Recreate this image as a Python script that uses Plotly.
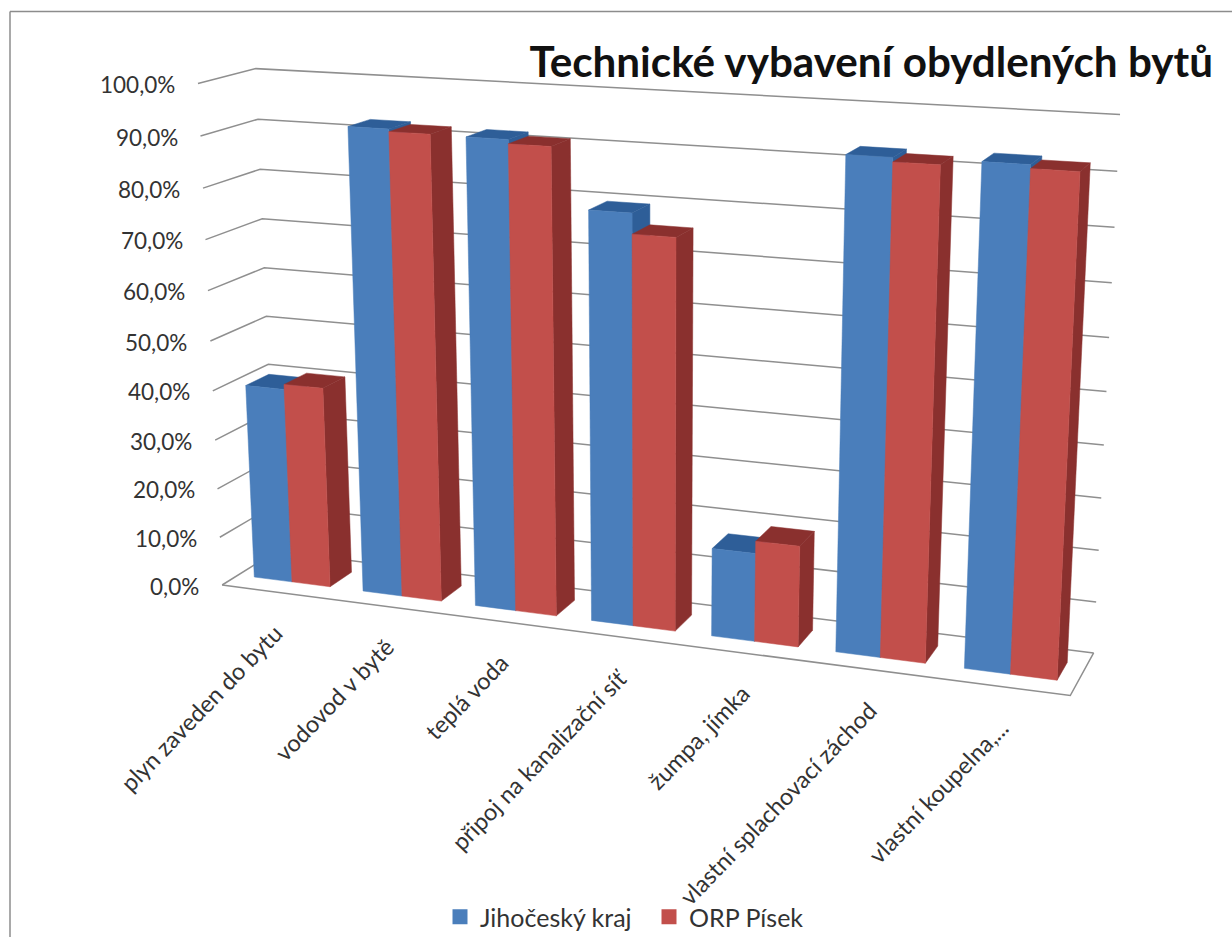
import numpy as np
import plotly.graph_objects as go

# ---------- data ----------
categories = ["plyn zaveden do bytu", "vodovod v bytě", "teplá voda", "připoj na kanalizační síť",
              "žumpa, jímka", "vlastní splachovací záchod", "vlastní koupelna,..."]
jihocesky_kraj = [39.8, 92.4, 91.8, 79.7, 17.3, 92.8, 93.0]
orp_pisek = [40.8, 91.9, 91.0, 75.8, 19.7, 92.0, 92.3]
tick_values = [0, 10, 20, 30, 40, 50, 60, 70, 80, 90, 100]
series_names = ["Jihočeský kraj", "ORP Písek"]

# ---------- perspective of the 3-D box: (category pos, depth, value) -> page position ----------
BAR_X = (0.15, 0.5, 0.85)
BAR_D = (0.29, 0.71)
calib_world = [(0,1,100),(0,1,90),(0,1,80),(0,1,70),(0,1,60),(0,1,40),(0,1,0),
               (0,0,100),(0,0,90),(0,0,80),(0,0,70),(0,0,60),(0,0,40),(0,0,30),(0,0,20),(0,0,10),(0,0,0),
               (7,1,100),(7,1,90),(7,1,80),(7,1,70),(7,1,30),(7,1,20),(7,1,10),(7,1,0),(7,0,0),
               (0.15,.29,0),(1.15,.29,0),(2.15,.29,0),(3.15,.29,0),(4.15,.29,0),(5.15,.29,0),(6.15,.29,0),
               (0.85,.29,0),(1.85,.29,0),(3.85,.29,0),(4.85,.29,0),(5.85,.29,0),(6.85,.29,0),
               (0.85,.71,0),(1.85,.71,0),(3.85,.71,0),(4.85,.71,0),(5.85,.71,0),(6.85,.71,0)]
calib_page = [(256,68),(258,119),(260,169),(263,219),(264,268),(268,364),(276,551),
              (198,83),(201,136),(202,189),(207,240),(208,291),(212,392),(215,441),(217,488),(219,537),(223,584),
              (1120,114),(1117,171),(1114,227),(1112,283),(1102,498),(1098,551),(1095,603),(1093,654),(1070,697),
              (253,577),(362,591),(474,605),(590,620),(710,636),(834,652),(963,669),
              (332,586),(443,600),(677,630),(799,647),(927,663),(1059,680),
              (352,572),(462,587),(692,617),(813,633),(938,651),(1068,652)]

rows = []
for (cx, d, v), (px, py) in zip(calib_world, calib_page):
    X = [cx / 7, d, v / 100, 1]
    u, w = px / 1000, py / 1000
    rows.append(X + [0, 0, 0, 0] + [-u * a for a in X])
    rows.append([0, 0, 0, 0] + X + [-w * a for a in X])
P = np.linalg.svd(np.array(rows))[2][-1].reshape(3, 4)


def project(cx, d, v):
    h = P @ np.array([cx / 7, d, v / 100, 1])
    return h[0] / h[2] * 1000, h[1] / h[2] * 1000


def polygon(points):
    xy = [project(*p) for p in points]
    xs = [q[0] for q in xy]
    ys = [q[1] for q in xy]
    return xs + xs[:1], ys + ys[:1]


GRID = "#8f8f8f"
COLORS = [("#4a7ebb", "#2e5e98"), ("#c24f4b", "#8a302e")]
TEXT = "#333333"
FONT = "Lato"

fig = go.Figure()

# gridlines on the two walls and the floor
gx, gy = [], []
for v in tick_values:
    for p in [(0, 0, v), (0, 1, v), (7, 1, v)]:
        q = project(*p)
        gx.append(q[0])
        gy.append(q[1])
    gx.append(None)
    gy.append(None)
for p in [(0, 0, 0), (7, 0, 0), (7, 1, 0)]:
    q = project(*p)
    gx.append(q[0])
    gy.append(q[1])
fig.add_trace(go.Scatter(x=gx, y=gy, mode="lines", line=dict(color=GRID, width=1.5),
                         hoverinfo="skip", showlegend=False))

# bars, painted back to front
d0, d1 = BAR_D
for i in range(len(categories)):
    for s, values in enumerate([jihocesky_kraj, orp_pisek]):
        v = values[i]
        x0, x1 = i + BAR_X[s], i + BAR_X[s + 1]
        front, dark = COLORS[s]
        faces = [
            ([(x1, d0, 0), (x1, d1, 0), (x1, d1, v), (x1, d0, v)], dark),
            ([(x0, d0, v), (x1, d0, v), (x1, d1, v), (x0, d1, v)], dark),
            ([(x0, d0, 0), (x1, d0, 0), (x1, d0, v), (x0, d0, v)], front),
        ]
        for pts, col in faces:
            xs, ys = polygon(pts)
            fig.add_trace(go.Scatter(x=xs, y=ys, mode="lines", fill="toself", fillcolor=col,
                                     line=dict(color=col, width=0.5), legendgroup=series_names[s],
                                     name=series_names[s], showlegend=False, hoverinfo="skip"))

# legend entries
for s, name in enumerate(series_names):
    fig.add_trace(go.Scatter(x=[None], y=[None], mode="markers", name=name, legendgroup=name,
                             marker=dict(symbol="square", size=15, color=COLORS[s][0])))

annotations = []
for v in tick_values:
    px, py = project(0, 0, v)
    annotations.append(dict(x=px, y=py, xref="x", yref="y", xshift=-21, yshift=-1, showarrow=False,
                            xanchor="right", yanchor="middle", text=f"{v:.1f}".replace(".", ",") + "%",
                            font=dict(family=FONT, size=22.5, color=TEXT)))
for i, c in enumerate(categories):
    px, py = project(i + 0.5, 0, 0)
    annotations.append(dict(x=px, y=py, xref="x", yref="y", xshift=14, yshift=-24, showarrow=False,
                            xanchor="right", yanchor="top", textangle=-46, text=c,
                            font=dict(family=FONT, size=23.5, color=TEXT)))

fig.update_layout(
    width=1232, height=937, margin=dict(l=0, r=0, t=0, b=0, autoexpand=False),
    paper_bgcolor="white", plot_bgcolor="white",
    xaxis=dict(visible=False, range=[0, 1232], fixedrange=True),
    yaxis=dict(visible=False, range=[937, 0], fixedrange=True),
    title=dict(text="Technické vybavení obydlených bytů", x=1213 / 1232, y=1 - 62 / 937,
               xanchor="right", yanchor="middle", xref="paper", yref="paper",
               font=dict(family=FONT, size=42.2, color="#111111", weight=700)),
    legend=dict(orientation="h", x=440 / 1232, xanchor="left",
                y=1 - 917 / 937, yanchor="middle", entrywidth=164, entrywidthmode="pixels",
                font=dict(family=FONT, size=25, color=TEXT), bgcolor="rgba(0,0,0,0)"),
    annotations=annotations,
    shapes=[
        dict(type="line", xref="paper", yref="paper", x0=10 / 1232, x1=1, y0=1 - 11.5 / 937, y1=1 - 11.5 / 937,
             line=dict(color="#8c8c8c", width=1.5)),
        dict(type="line", xref="paper", yref="paper", x0=10 / 1232, x1=10 / 1232, y0=0, y1=1 - 11.5 / 937,
             line=dict(color="#8c8c8c", width=1.5)),
    ],
)
fig.write_html("out.html", config={"displayModeBar": False}, post_script="document.body.style.margin='0';")
